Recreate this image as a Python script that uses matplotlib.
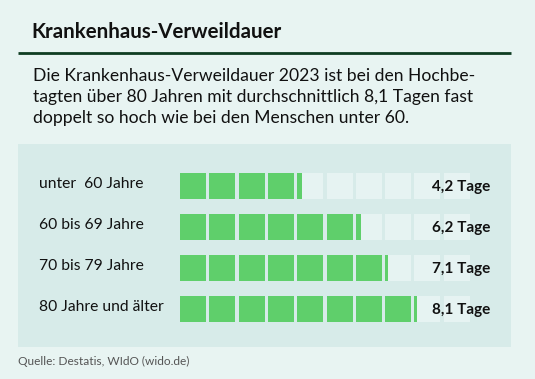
"""Krankenhaus-Verweildauer nach Altersgruppen als Kachel-Balken."""
import matplotlib

matplotlib.use("Agg")
import matplotlib.pyplot as plt
from matplotlib.patches import Rectangle

# Daten
groups = ["unter  60 Jahre", "60 bis 69 Jahre", "70 bis 79 Jahre", "80 Jahre und älter"]
days = [4.2, 6.2, 7.1, 8.1]
value_labels = ["4,2 Tage", "6,2 Tage", "7,1 Tage", "8,1 Tage"]
n_tiles = 10

title = "Krankenhaus-Verweildauer"
subtitle = (
    "Die Krankenhaus-Verweildauer 2023 ist bei den Hochbe-\n"
    "tagten über 80 Jahren mit durchschnittlich 8,1 Tagen fast\n"
    "doppelt so hoch wie bei den Menschen unter 60."
)
source = "Quelle: Destatis, WIdO (wido.de)"

BG = "#e8f4f2"
PANEL = "#d7ebe9"
TILE_EMPTY = "#e6f3f2"
GREEN = "#5fcf6b"
DARK = "#0f3d22"
FONT = "Lato"

W, H = 535, 379
fig = plt.figure(figsize=(W / 100, H / 100), dpi=100, facecolor=BG)
renderer = fig.canvas.get_renderer()


def fit_width(texts, target_px):
    """Scale the font of one or more texts so the widest is target_px wide."""
    widest = max(t.get_window_extent(renderer).width for t in texts)
    for t in texts:
        t.set_fontsize(t.get_fontsize() * target_px / widest)


# Hintergrund-Achse in Pixelkoordinaten
base = fig.add_axes([0, 0, 1, 1])
base.set_xlim(0, W)
base.set_ylim(H, 0)
base.axis("off")

t_title = base.text(31, 32, title, fontsize=14, fontweight="bold", family=FONT,
                    color="#111111", va="center", ha="left")
fit_width([t_title], 252)
base.plot([18, 511], [53, 53], color=DARK, linewidth=2, solid_capstyle="butt")
t_sub = base.text(33, 97, subtitle, fontsize=12.2, family=FONT, color="#111111",
                  va="center", ha="left", linespacing=1.4)
fit_width([t_sub], 442)
base.add_patch(Rectangle((18, 144), 493, 203, facecolor=PANEL, edgecolor="none"))
t_src = base.text(18, 361, source, fontsize=8.3, family=FONT, color="#555555",
                  va="center", ha="left")
fit_width([t_src], 170)

# Kachel-Achse: x in Tagen, eine Kachel pro Tag
pitch = 29.3
tile_w = 26 / pitch
row_pitch = 41
left_px, top_px = 180, 186 - row_pitch / 2
ax = fig.add_axes([left_px / W, 1 - (top_px + 4 * row_pitch) / H,
                   n_tiles * pitch / W, 4 * row_pitch / H])
ax.set_xlim(0, n_tiles)
ax.set_ylim(len(groups) - 0.5, -0.5)
ax.axis("off")
ax.patch.set_alpha(0)

bar_h = 26 / row_pitch
for i, v in enumerate(days):
    for k in range(n_tiles):
        ax.barh(i, tile_w, left=k, height=bar_h, color=TILE_EMPTY, linewidth=0)
        frac = min(1.0, max(0.0, v - k))
        if frac > 0:
            ax.barh(i, frac * tile_w, left=k, height=bar_h, color=GREEN, linewidth=0)

ytf = ax.get_yaxis_transform()
group_texts, value_texts = [], []
for i, (g, lab) in enumerate(zip(groups, value_labels)):
    group_texts.append(ax.text((39 - left_px) / (n_tiles * pitch), i - 0.06, g,
                               transform=ytf, fontsize=10.5, family=FONT,
                               color="#111111", va="center", ha="left"))
    value_texts.append(ax.text((490 - left_px) / (n_tiles * pitch), i + 0.02, lab,
                               transform=ytf, fontsize=10.5, family=FONT,
                               fontweight="bold", color="#111111",
                               va="center", ha="right"))
fit_width(group_texts, 125)
fit_width(value_texts[:1], 58)
for t in value_texts[1:]:
    t.set_fontsize(value_texts[0].get_fontsize())

fig.savefig("out.png", dpi=100, facecolor=BG)
